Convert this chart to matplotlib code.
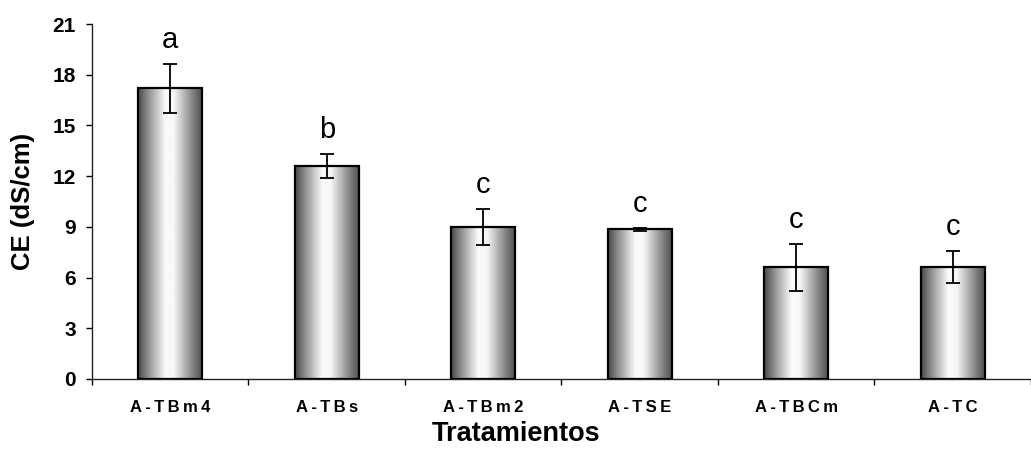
import numpy as np
import matplotlib
matplotlib.use("Agg")
import matplotlib.pyplot as plt

plt.rcParams['font.family'] = ['Liberation Sans', 'DejaVu Sans']

# data
tratamientos = ["A-TBm4", "A-TBs", "A-TBm2", "A-TSE", "A-TBCm", "A-TC"]
ce_media = [17.2, 12.6, 9.0, 8.85, 6.6, 6.6]
ce_error = [1.45, 0.7, 1.05, 0.08, 1.4, 0.95]
letras = ["a", "b", "c", "c", "c", "c"]
yticks = [0, 3, 6, 9, 12, 15, 18, 21]

fig = plt.figure(figsize=(10.31, 4.54), dpi=100)
ax = fig.add_axes([0.0892, 0.1652, 0.9108, 0.7819])

x = np.arange(len(tratamientos))
bars = ax.bar(x, ce_media, width=0.41, color="none", edgecolor="black",
              linewidth=1.6, zorder=3)

# cylinder-like shading inside each bar
t = np.linspace(0, 1, 256)
shade = np.interp(t, [0, 0.12, 0.42, 0.55, 0.85, 1], [0.28, 0.5, 0.98, 0.97, 0.5, 0.3])
grad = np.tile(shade, (2, 1))
for b in bars:
    x0, w, h = b.get_x(), b.get_width(), b.get_height()
    im = ax.imshow(grad, cmap="gray", vmin=0, vmax=1, aspect="auto",
                   extent=[x0, x0 + w, 0, h], zorder=2)
    im.set_clip_path(b)

ax.errorbar(x, ce_media, yerr=ce_error, fmt="none", ecolor="black",
            elinewidth=1.3, capsize=4.7, capthick=1.3, zorder=4)

for xi, m, e, l in zip(x, ce_media, ce_error, letras):
    ax.text(xi, m + e + 0.6, l, ha="center", va="bottom", fontsize=21)

ax.set_xlim(-0.5, 5.443)
ax.set_ylim(0, 21)
ax.set_yticks(yticks)
ax.set_yticklabels([str(v) for v in yticks], fontsize=15, fontweight="bold")

# labels centred on the bars, tick marks between the bars
ax.set_xticks(x)
ax.set_xticklabels(["\u2009".join(s) for s in tratamientos], fontsize=12, fontweight="bold")
ax.set_xticks(np.arange(-0.5, len(tratamientos), 1.0), minor=True)
ax.tick_params(axis="x", which="major", length=0, pad=15)
ax.tick_params(axis="x", which="minor", length=4.5, width=1, direction="out")
ax.tick_params(axis="y", length=4.5, width=1, pad=7)

for s in ["top", "right"]:
    ax.spines[s].set_visible(False)
for s in ["left", "bottom"]:
    ax.spines[s].set_linewidth(1)
    ax.spines[s].set_color("#222222")

ax.set_ylabel("CE (dS/cm)", fontsize=18.5, fontweight="bold")
ax.yaxis.set_label_coords(-0.0607, 0.5)
ax.set_xlabel("Tratamientos", fontsize=19.5, fontweight="bold")
ax.xaxis.set_label_coords(0.4515, -0.118)

fig.savefig("out.png", dpi=100)
